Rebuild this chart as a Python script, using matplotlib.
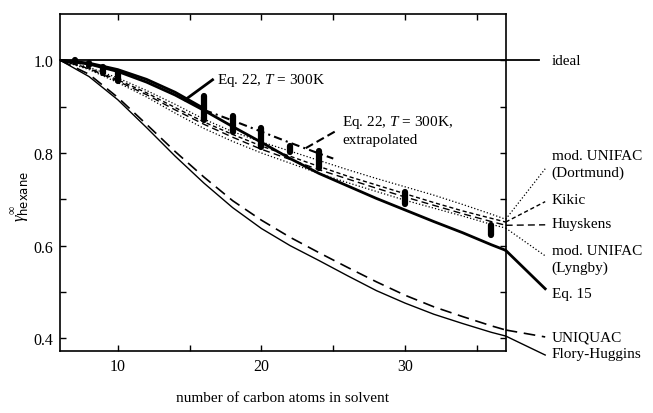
import matplotlib
matplotlib.use("Agg")
import matplotlib.pyplot as plt

# carbon number of the solvent
carbon = [6, 8, 10, 12, 14, 16, 18, 20, 22, 24, 26, 28, 30, 32, 34, 36, 37]

eq15 = [1.0, 0.992, 0.976, 0.953, 0.925, 0.892, 0.857, 0.823, 0.788, 0.756,
        0.729, 0.702, 0.677, 0.652, 0.628, 0.602, 0.590]
dortmund = [1.0, 0.985, 0.962, 0.935, 0.905, 0.873, 0.846, 0.824, 0.804, 0.784,
            0.764, 0.745, 0.727, 0.709, 0.689, 0.668, 0.657]
kikic = [1.0, 0.983, 0.958, 0.930, 0.898, 0.867, 0.840, 0.815, 0.793, 0.771,
         0.750, 0.731, 0.712, 0.693, 0.675, 0.659, 0.651]
huyskens = [1.0, 0.982, 0.955, 0.926, 0.893, 0.862, 0.834, 0.808, 0.786, 0.764,
            0.744, 0.724, 0.705, 0.687, 0.669, 0.652, 0.644]
lyngby = [1.0, 0.980, 0.952, 0.921, 0.886, 0.853, 0.825, 0.800, 0.778, 0.756,
          0.736, 0.717, 0.698, 0.681, 0.664, 0.646, 0.638]
uniquac = [1.0, 0.970, 0.920, 0.862, 0.803, 0.748, 0.697, 0.655, 0.618, 0.585,
           0.553, 0.522, 0.493, 0.468, 0.447, 0.427, 0.418]
flory = [1.0, 0.965, 0.915, 0.855, 0.793, 0.735, 0.682, 0.637, 0.600, 0.568,
         0.535, 0.503, 0.476, 0.452, 0.432, 0.413, 0.405]

# Eq. 22 at 300 K (fitted range) and its extrapolation
eq22_x = [6, 8, 10, 12, 14, 16]
eq22 = [1.0, 0.994, 0.980, 0.959, 0.931, 0.896]
extra_x = [16, 18, 20, 22, 24, 25]
extra = [0.893, 0.870, 0.846, 0.822, 0.799, 0.788]

# experimental data (ranges)
exp_x = [7, 8, 9, 10, 16, 16, 18, 20, 22, 24, 30, 36]
exp_lo = [0.998, 0.990, 0.972, 0.955, 0.872, 0.860, 0.846, 0.812, 0.802, 0.768, 0.689, 0.624]
exp_hi = [1.000, 0.995, 0.985, 0.974, 0.924, 0.860, 0.880, 0.855, 0.815, 0.804, 0.715, 0.645]

plt.rcParams['font.family'] = 'serif'
plt.rcParams['font.serif'] = ['Liberation Serif']
plt.rcParams['mathtext.fontset'] = 'custom'
plt.rcParams['mathtext.rm'] = 'Liberation Serif'
plt.rcParams['mathtext.it'] = 'Liberation Serif:italic'
plt.rcParams['mathtext.sf'] = 'DejaVu Sans'

fig = plt.figure(figsize=(6.53, 4.14), dpi=100)
ax = fig.add_axes([0.0923, 0.149, 0.6821, 0.8148])

ax.plot([6, 39.35], [1.0, 1.0], color='k', lw=1.3, clip_on=False)
ax.plot(carbon, flory, color='k', lw=1.0)
ax.plot(carbon, uniquac, color='k', lw=1.2, dashes=(7, 4))
ax.plot(carbon, dortmund, color='k', lw=0.9, ls=':')
ax.plot(carbon, lyngby, color='k', lw=0.9, ls=':')
ax.plot(carbon, kikic, color='k', lw=1.0, dashes=(3, 2))
ax.plot(carbon, huyskens, color='k', lw=1.0, dashes=(5, 3))
ax.plot(carbon, eq15, color='k', lw=2.0)
ax.plot(eq22_x, eq22, color='k', lw=2.0)
ax.plot(extra_x, extra, color='k', lw=1.5, dashes=(4, 2, 1, 2))
ax.vlines(exp_x, exp_lo, exp_hi, color='k', lw=4.5, capstyle='round')

# labels on the right, joined to the curve ends
right = [
    (dortmund, 0.766, 0.777, 'mod. UNIFAC\n(Dortmund)', dict(lw=0.9, ls=':')),
    (kikic, 0.695, 0.699, 'Kikic', dict(lw=1.0, dashes=(3, 2))),
    (huyskens, 0.645, 0.647, 'Huyskens', dict(lw=1.0, dashes=(5, 3))),
    (lyngby, 0.578, 0.572, 'mod. UNIFAC\n(Lyngby)', dict(lw=0.9, ls=':')),
    (eq15, 0.507, 0.496, 'Eq. 15', dict(lw=2.0)),
    (uniquac, 0.403, 0.403, 'UNIQUAC', dict(lw=1.2, dashes=(7, 4))),
    (flory, 0.364, 0.367, 'Flory-Huggins', dict(lw=1.0)),
]
for vals, yend, ytxt, txt, style in right:
    ax.plot([37, 39.75], [vals[-1], yend], color='k', clip_on=False, **style)
    ax.text(40.2, ytxt, txt, fontsize=11, va='center', ha='left', linespacing=1.35)
ax.text(40.2, 1.0, 'ideal', fontsize=11, va='center', ha='left')

ax.text(16.9, 0.959, 'Eq. 22, $T$ = 300K', fontsize=11, va='center')
ax.plot([16.6, 14.7], [0.958, 0.915], color='k', lw=2.0)
ax.text(25.6, 0.850, 'Eq. 22, $T$ = 300K,\nextrapolated', fontsize=11,
        va='center', linespacing=1.3)
ax.plot([25.1, 23.0], [0.846, 0.809], color='k', lw=1.5, dashes=(4, 2))

ax.set_xlim(6, 37)
ax.set_ylim(0.372, 1.1)
ax.set_xticks([10, 15, 20, 25, 30, 35])
ax.set_xticklabels(['10', '', '20', '', '30', ''])
ax.set_yticks([0.4, 0.5, 0.6, 0.7, 0.8, 0.9, 1.0])
ax.set_yticklabels(['0.4', '', '0.6', '', '0.8', '', '1.0'])
ax.tick_params(direction='in', length=4, width=1.0, top=True, right=True,
               labelsize=11.5, pad=5)
for s in ax.spines.values():
    s.set_linewidth(1.2)

ax.set_xlabel('number of carbon atoms in solvent', fontsize=11, labelpad=12)
fig.text(0.03, 0.525, r'$\gamma^{\infty}_{\mathsf{hexane}}$', rotation=90,
         fontsize=12, ha='center', va='center')

fig.savefig('out.png', dpi=100)
